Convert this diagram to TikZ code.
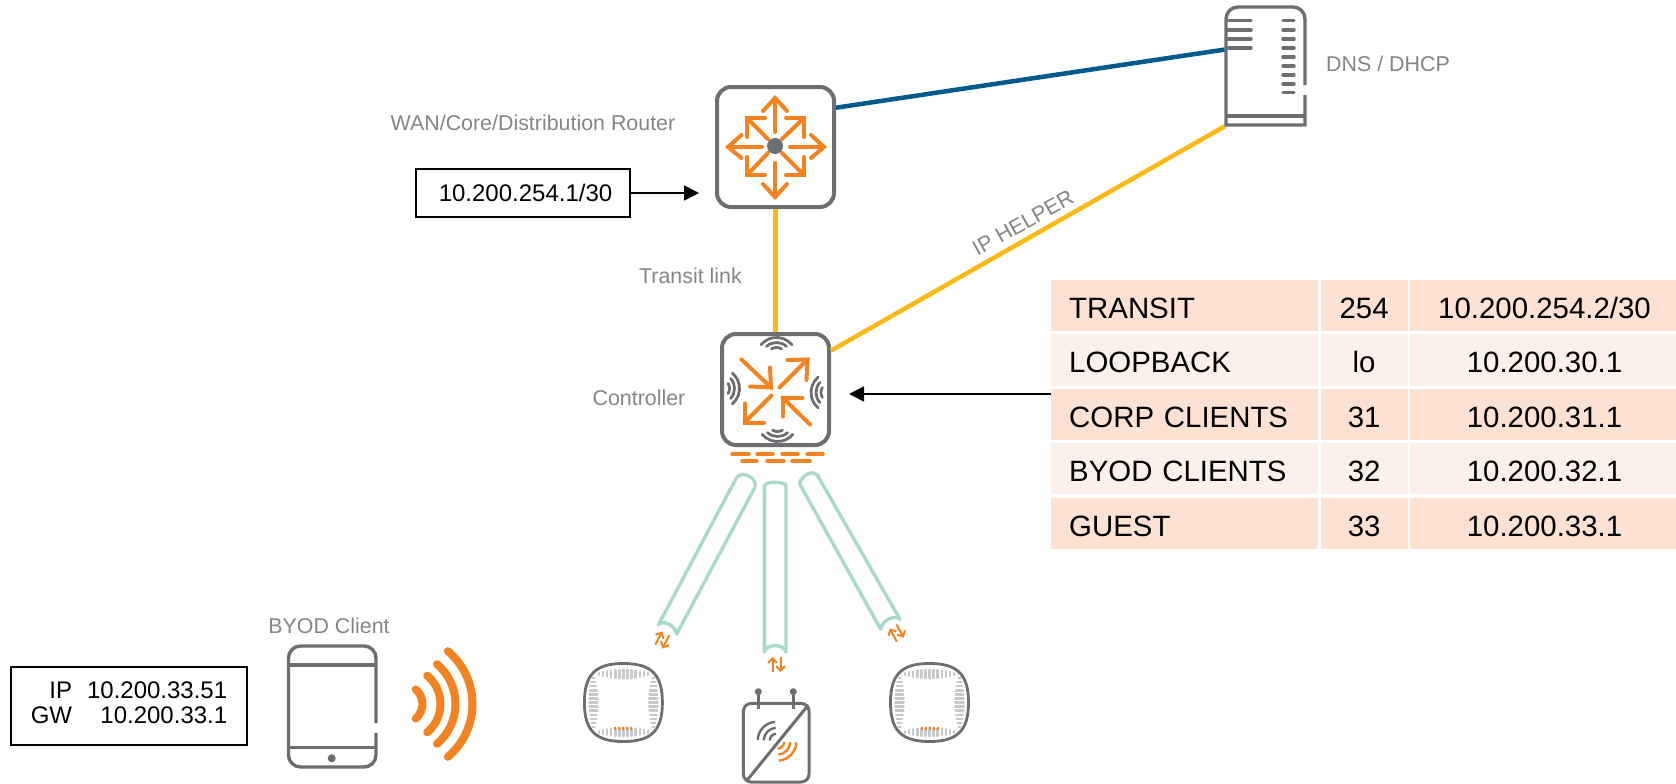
\documentclass[tikz,border=0pt]{standalone}
\usepackage{fontspec}
\setmainfont{Liberation Sans}
\usetikzlibrary{arrows.meta,calc}
\definecolor{devgray}{HTML}{6D6E71}
\definecolor{accent}{HTML}{F58220}
\definecolor{linkblue}{HTML}{005B8C}
\definecolor{linkyellow}{HTML}{FDB913}
\definecolor{tunnelgreen}{HTML}{A9D8CC}
\definecolor{labelgray}{HTML}{858585}
\definecolor{bargray}{HTML}{C7C8CA}
\definecolor{rowdark}{HTML}{FDE2D3}
\definecolor{rowlight}{HTML}{FCF0EB}
\tikzset{
  devbox/.style={draw=devgray,line width=4pt,fill=white,rounded corners=14pt,inner sep=0pt},
  devline/.style={draw=devgray,line width=3.4pt},
  glyph/.style={draw=accent,line width=4pt,line cap=round},
  lbl/.style={text=labelgray,inner sep=0pt,font=\fontsize{21.4pt}{25pt}\selectfont},
  addr/.style={draw=black,line width=1.8pt,inner sep=0pt,font=\fontsize{24pt}{25pt}\selectfont},
  pointer/.style={-{Triangle[length=15pt,width=15pt]},line width=1.6pt,black},
  cell/.style={inner ysep=0pt,outer sep=0pt,minimum height=51.5pt,text height=25pt,text depth=0pt,font=\fontsize{29.4pt}{30pt}\selectfont},
  tunnel/.style={draw=tunnelgreen,line width=3.4pt,line join=round},
  flow/.style={draw=accent,line width=2pt,-{Straight Barb[length=4.5pt,width=9pt]}},
  apbar/.style={draw=bargray,line width=2.6pt,line cap=round},
}
% name, y, fill, text, vlan, address
\newcommand\TblRow[6]{
  \node[cell,fill=#3,text width=231pt,inner xsep=18pt,align=left] (#1) at (1184.7,#2) {#4};
  \node[cell,fill=#3,text width=86.8pt,inner xsep=0pt,align=center] (#1-vlan) at (1364.1,#2) {#5};
  \node[cell,fill=#3,text width=266pt,inner xsep=0pt,align=center] (#1-ip) at (1543,#2) {\hspace*{3pt}#6};
}
\newcommand\WifiArcs[3]{
  \draw[devgray,line width=2.8pt,line cap=round] (#1,#2) ++(#3-50:20pt) arc[start angle=#3-50,end angle=#3+50,radius=20pt];
  \draw[devgray,line width=2.8pt,line cap=round] (#1,#2) ++(#3-42:15pt) arc[start angle=#3-42,end angle=#3+42,radius=15pt];
  \draw[devgray,line width=2.8pt,line cap=round] (#1,#2) ++(#3-30:10pt) arc[start angle=#3-30,end angle=#3+30,radius=10pt];
}
\newcommand\UpDown[3]{
  \begin{scope}[shift={(#1,#2)},rotate=#3]
    \draw[flow] (-4,-7.5) -- (-4,7.5);
    \draw[flow] (4,7.5) -- (4,-7.5);
  \end{scope}
}
\newcommand\AccessPt[2]{
  \begin{scope}[shift={(#1,#2)}]
    \draw[draw=devgray,line width=2.8pt] (-39,0) .. controls (-39,28) and (-28,39) .. (0,39)
      .. controls (28,39) and (39,28) .. (39,0) .. controls (39,-28) and (28,-39) .. (0,-39)
      .. controls (-28,-39) and (-39,-28) .. (-39,0) -- cycle;
    \foreach \i in {-6,...,6}{
      \pgfmathsetmacro\Len{4.2-3.2*(\i/6)^2}
      \draw[apbar] (\i*4.1,28.5-\Len) -- (\i*4.1,28.5+\Len); % top
      \draw[apbar] (\i*4.1,-29.5-\Len) -- (\i*4.1,-29.5+\Len); % bottom
      \draw[apbar] (-30-\Len,\i*4.1) -- (-30+\Len,\i*4.1); % left
      \draw[apbar] (30-\Len,\i*4.1) -- (30+\Len,\i*4.1); % right
    }
    \foreach \i in {-2,...,2}{
      \draw[draw=accent,line width=2pt] (\i*4,-24.5) -- (\i*4,-27.5);
    }
  \end{scope}
}

\begin{document}
\begin{tikzpicture}[x=1pt,y=1pt]
  \useasboundingbox (0,0) rectangle (1676,-784);

  % devices
  \node[devbox,minimum width=117pt,minimum height=120pt] (router) at (775.5,-147) {};
  \node[devbox,minimum width=107pt,minimum height=111pt] (controller) at (775.5,-389.5) {};
  \node[inner sep=0pt,minimum width=81pt,minimum height=120pt] (server) at (1265.5,-66) {};

  % links
  \draw[linkblue,line width=4.5pt] (router.33) -- (server.158); % router->server
  \draw[linkyellow,line width=4.5pt] (router.south) -- (controller.north); % router->controller
  \draw[linkyellow,line width=4.5pt] (controller.35) -- (server.south west); % controller->server

  % server
  \draw[devline] [rounded corners=12pt] (1305,-85) -- (1305,-7) -- (1226,-7) [sharp corners] -- (1226,-125) -- (1305,-125) -- (1305,-95);
  \draw[devline] (1226,-116) -- (1306,-116);
  \foreach \y in {20.7,30,39,48}{
    \draw[devline,line cap=round] (1228,-\y) -- (1251,-\y);
  }
  \foreach \y in {20.7,30,39,48,57,66,75,84,92.5}{
    \draw[devline,line cap=round] (1283,-\y) -- (1294,-\y);
  }

  % router arrows
  \begin{scope}[shift={(775,-146)}]
    \draw[glyph] (0,14) -- (0,48);    \draw[glyph] (-12,35) -- (0,48) -- (12,35);
    \draw[glyph] (0,-17) -- (0,-51);  \draw[glyph] (-12,-38) -- (0,-51) -- (12,-38);
    \draw[glyph] (-13,-1) -- (-47,-1); \draw[glyph] (-33.5,11) -- (-47,-1) -- (-33.5,-12);
    \draw[glyph] (15,-1) -- (49,-1);  \draw[glyph] (36,11) -- (49,-1) -- (36,-12);
    \draw[glyph] (-7,7) -- (-28,28);  \draw[glyph] (-10,28) -- (-28,28) -- (-28,9);
    \draw[glyph] (7,7) -- (29,28);    \draw[glyph] (11,28) -- (29,28) -- (29,9);
    \draw[glyph] (-7,-7) -- (-28,-29); \draw[glyph] (-28,-11) -- (-28,-29) -- (-10,-29);
    \draw[glyph] (7,-7) -- (29,-29);  \draw[glyph] (29,-11) -- (29,-29) -- (11,-29);
    \fill[devgray] (0,0) circle (8pt);
  \end{scope}

  % controller arrows
  \begin{scope}[shift={(775.5,-389.5)}]
    \draw[glyph] (-34,30) -- (-4.5,2);  \draw[glyph] (-5.5,22) -- (-4.5,2) -- (-25.5,3);
    \draw[glyph] (4,2) -- (32,30);      \draw[glyph] (12,29.5) -- (32,30) -- (31,9.5);
    \draw[glyph] (-4,-6) -- (-31,-33);  \draw[glyph] (-31,-14) -- (-31,-33) -- (-11.5,-33);
    \draw[glyph] (34.5,-35) -- (7,-8);  \draw[glyph] (7,-27) -- (7,-8) -- (27,-8);
  \end{scope}
  \WifiArcs{776.5}{-357.5}{90}
  \WifiArcs{777.5}{-421.5}{-90}
  \WifiArcs{719.5}{-388.5}{0}
  \WifiArcs{831}{-392.5}{180}
  \foreach \a/\b in {732/749,757/773,782/798,807/823}{
    \draw[accent,line width=3.5pt,line cap=round] (\a,-454) -- (\b,-454);
  }
  \foreach \a/\b in {742/757,767/784,792/810}{
    \draw[accent,line width=3.5pt,line cap=round] (\a,-461) -- (\b,-461);
  }

  % tunnels
  \draw[tunnel] (658.3,-625) -- (736.7,-477.3) .. controls (743,-470) and (757,-478) .. (755,-487.3)
    -- (676.7,-634) .. controls (675,-624) and (661,-619.5) .. (658.3,-625) -- cycle;
  \draw[tunnel] (764.3,-652) -- (764.3,-486) .. controls (764.3,-481) and (786,-481) .. (786,-486)
    -- (786,-652) .. controls (784,-643.5) and (766,-643.5) .. (764.3,-652) -- cycle;
  \draw[tunnel] (799.3,-483.3) .. controls (803,-474) and (813,-470) .. (817.3,-475)
    -- (900,-619.3) .. controls (895,-614.5) and (882,-620) .. (880.7,-629.3) -- cycle;
  \UpDown{662.3}{-640}{-28}
  \UpDown{776.5}{-664.5}{0}
  \UpDown{896.7}{-633}{29}

  % access points
  \AccessPt{623.4}{-702.5}
  \AccessPt{929.5}{-702.5}
  \node[draw=devgray,line width=3pt,rounded corners=8pt,inner sep=0pt,minimum width=65.7pt,minimum height=78.7pt] (meshap) at (776.2,-742.7) {};
  \draw[devline,line width=3pt] (758.3,-709.3) -- (758.3,-692);
  \draw[devline,line width=3pt] (793.3,-709.3) -- (793.3,-692);
  \fill[devgray] (758.3,-691.7) circle (3.5pt);
  \fill[devgray] (793.3,-691.7) circle (3.5pt);
  \draw[devline,line width=3pt] (808.3,-705) -- (746.7,-780.7);
  \foreach \r in {7,13,19}{
    \draw[devgray,line width=2.4pt] (776.7,-740.7) ++(95:\r pt) arc[start angle=95,end angle=178,radius=\r pt];
    \draw[accent,line width=2.4pt] (777.3,-741.7) ++(275:\r pt) arc[start angle=275,end angle=358,radius=\r pt];
  }

  % tablet
  \draw[devline] [rounded corners=12pt] (376,-723) -- (376,-646) -- (288.5,-646) -- (288.5,-767) -- (376,-767) -- (376,-733);
  \draw[devline] (288.5,-665) -- (377,-665);
  \draw[devline] (288.5,-747.3) -- (377,-747.3);
  \fill[devgray] (331.7,-758.3) circle (4pt);
  \foreach \r in {19,37,52,69}{
    \draw[accent,line width=8pt,line cap=round] (403.5,-704) ++(-50:\r pt) arc[start angle=-50,end angle=50,radius=\r pt];
  }

  % table
  \TblRow{rowA}{-305.5}{rowdark}{TRANSIT}{254}{10.200.254.2/30}
  \TblRow{rowB}{-360}{rowlight}{LOOPBACK}{lo}{10.200.30.1}
  \TblRow{rowC}{-414.5}{rowdark}{CORP CLIENTS}{31}{10.200.31.1}
  \TblRow{rowD}{-468.5}{rowlight}{BYOD CLIENTS}{32}{10.200.32.1}
  \TblRow{rowE}{-523.5}{rowdark}{GUEST}{33}{10.200.33.1}

  % boxes
  \node[addr,minimum width=214pt,minimum height=47.5pt] (routerAddr) at (523,-193) {\hspace*{5pt}10.200.254.1/30};
  \node[addr,minimum width=236pt,minimum height=78pt] (clientAddr) at (129,-706) {%
    \begin{tabular}{@{}r@{\hspace{15pt}}r@{}}IP & 10.200.33.51\\GW & 10.200.33.1\end{tabular}};

  % pointers
  \coordinate (routerIn) at (699,-193);
  \coordinate (ctrlIn) at (849,-394);
  \draw[pointer] (routerAddr) -- (routerIn); % box->router
  \draw[pointer] (rowC.north west |- ctrlIn) -- (ctrlIn); % table->controller

  % labels
  \node[lbl] (routerLbl) at (533,-123) {WAN/Core/Distribution Router};
  \node[lbl] (serverLbl) at (1388,-64) {DNS / DHCP};
  \node[lbl] (transitLbl) at (690.5,-276) {Transit link};
  \node[lbl] (ctrlLbl) at (639,-398) {Controller};
  \node[lbl] (clientLbl) at (329,-626) {BYOD Client};
  \node[lbl,rotate=29] (helperLbl) at (1023,-223) {IP HELPER};
\end{tikzpicture}
\end{document}
